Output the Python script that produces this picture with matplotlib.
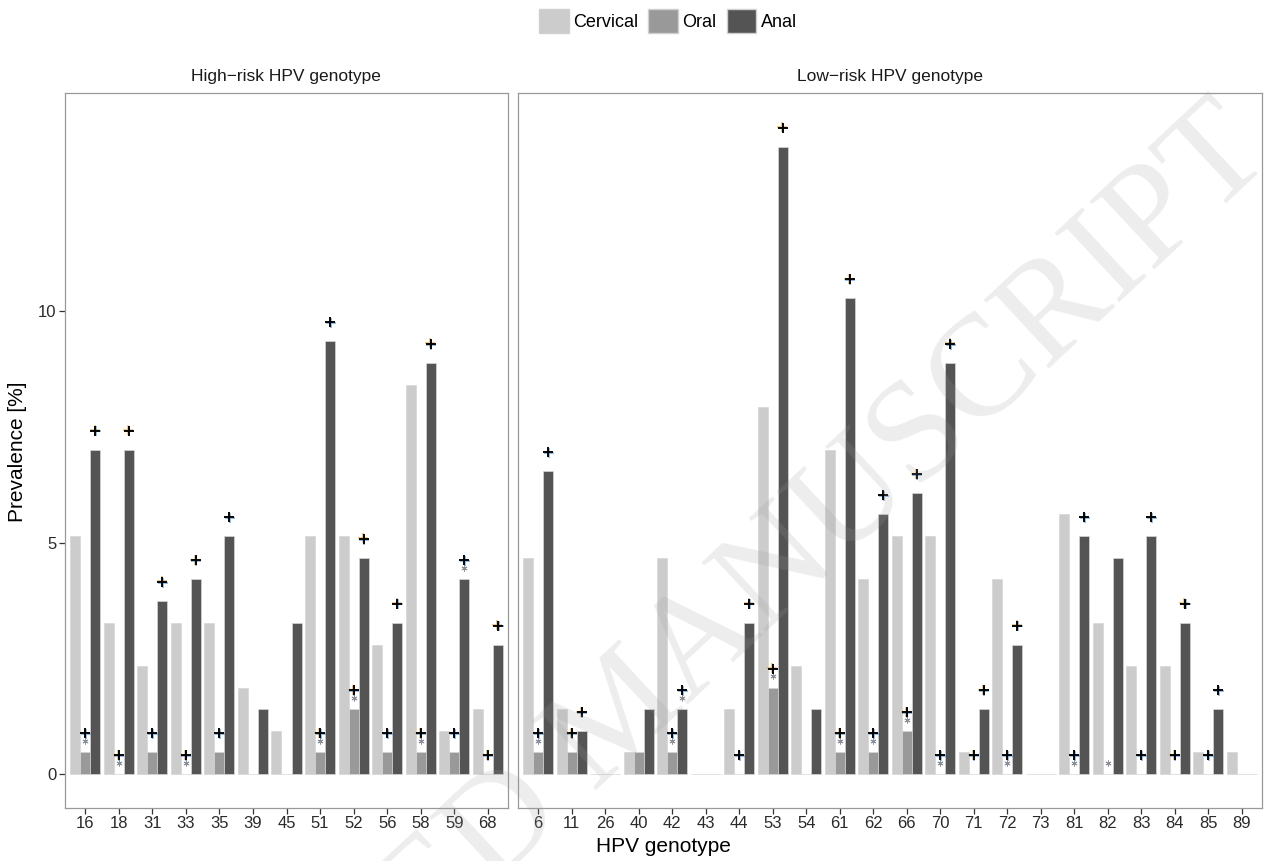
import matplotlib
matplotlib.use('Agg')
import matplotlib.pyplot as plt
import matplotlib.transforms as mtransforms
import numpy as np
from matplotlib.patches import Patch

plt.rcParams['font.family'] = ['Liberation Sans', 'DejaVu Sans']

# ---------------- data ----------------
high_genotypes = ['16', '18', '31', '33', '35', '39', '45', '51', '52', '56', '58', '59', '68']
high_cervical = [5.14, 3.27, 2.34, 3.27, 3.27, 1.87, 0.93, 5.14, 5.14, 2.80, 8.41, 0.93, 1.40]
high_oral     = [0.47, 0.00, 0.47, 0.00, 0.47, 0.00, 0.00, 0.47, 1.40, 0.47, 0.47, 0.47, 0.00]
high_anal     = [7.01, 7.01, 3.74, 4.21, 5.14, 1.40, 3.27, 9.35, 4.67, 3.27, 8.88, 4.21, 2.80]
high_plus_oral = [1, 1, 1, 1, 1, 0, 0, 1, 1, 1, 1, 1, 1]
high_star_oral = [1, 1, 0, 1, 0, 0, 0, 1, 1, 0, 1, 0, 0]
high_plus_anal = [1, 1, 1, 1, 1, 0, 0, 1, 1, 1, 1, 1, 1]
high_star_anal = [0, 0, 0, 0, 0, 0, 0, 0, 0, 0, 0, 1, 0]

low_genotypes = ['6', '11', '26', '40', '42', '43', '44', '53', '54', '61', '62', '66',
                 '70', '71', '72', '73', '81', '82', '83', '84', '85', '89']
low_cervical = [4.67, 1.40, 0.00, 0.47, 4.67, 0.00, 1.40, 7.94, 2.34, 7.01, 4.21, 5.14,
                5.14, 0.47, 4.21, 0.00, 5.61, 3.27, 2.34, 2.34, 0.47, 0.47]
low_oral     = [0.47, 0.47, 0.00, 0.47, 0.47, 0.00, 0.00, 1.87, 0.00, 0.47, 0.47, 0.93,
                0.00, 0.00, 0.00, 0.00, 0.00, 0.00, 0.00, 0.00, 0.00, 0.00]
low_anal     = [6.54, 0.93, 0.00, 1.40, 1.40, 0.00, 3.27, 13.55, 1.40, 10.28, 5.61, 6.07,
                8.88, 1.40, 2.80, 0.00, 5.14, 4.67, 5.14, 3.27, 1.40, 0.00]
low_plus_oral = [1, 1, 0, 0, 1, 0, 1, 1, 0, 1, 1, 1, 1, 1, 1, 0, 1, 0, 1, 1, 1, 0]
low_star_oral = [1, 0, 0, 0, 1, 0, 0, 1, 0, 1, 1, 1, 1, 0, 1, 0, 1, 1, 0, 0, 0, 0]
low_plus_anal = [1, 1, 0, 0, 1, 0, 1, 1, 0, 1, 1, 1, 1, 1, 1, 0, 1, 0, 1, 1, 1, 0]
low_star_anal = [0, 0, 0, 0, 1, 0, 0, 0, 0, 0, 0, 0, 0, 0, 0, 0, 0, 0, 0, 0, 0, 0]

series_names = ['Cervical', 'Oral', 'Anal']
panel_titles = ['High\u2212risk HPV genotype', 'Low\u2212risk HPV genotype']

# ---------------- style ----------------
COLORS = ['#cccccc', '#999999', '#545454']
EDGE = '#d6d6d6'
W, H = 1266, 861

fig = plt.figure(figsize=(W / 100, H / 100), dpi=100)
axL = fig.add_axes([65 / W, (H - 808) / H, 443 / W, 715 / H])
axR = fig.add_axes([518 / W, (H - 808) / H, 744 / W, 715 / H])

PLUS_OFF = 0.41
STAR_OFF = 0.24


def draw(ax, genos, cerv, oral, anal, po, so, pa, sa, show_y):
    x = np.arange(len(genos))
    bw = 0.3
    for vals, off, col in zip([cerv, oral, anal], [-bw, 0, bw], COLORS):
        ax.bar(x + off, vals, bw, color=col, edgecolor=EDGE, linewidth=0.5, zorder=2)
    oral = np.array(oral)
    anal = np.array(anal)
    fringe = [('#e8a33c', -0.6, 0.6), ('#4a90d9', 0.6, -0.6)]
    for flags, base, off in [(po, oral, 0.0), (pa, anal, bw)]:
        idx = np.array(flags, dtype=bool)
        xs = x[idx] + off
        ys = base[idx] + PLUS_OFF
        for col, dx, dy in fringe:
            tr = mtransforms.offset_copy(ax.transData, fig=fig, x=dx, y=dy, units='dots')
            ax.scatter(xs, ys, marker='+', s=62, linewidths=1.2, color=col, alpha=0.7,
                       zorder=3.5, transform=tr)
        ax.scatter(xs, ys, marker='+', s=62, linewidths=1.35, color='black', zorder=4)
    for flags, base, off in [(so, oral, 0.0), (sa, anal, bw)]:
        idx = np.array(flags, dtype=bool)
        xs = x[idx] + off
        ys = base[idx] + STAR_OFF
        ax.scatter(xs, ys, marker=(6, 2, 0), s=14, linewidths=0.7, color='#8a8f98', zorder=3)
    ax.set_xlim(-0.6, len(genos) - 0.4)
    ax.set_ylim(-0.73, 14.71)
    ax.set_xticks(x)
    ax.set_xticklabels(genos)
    ax.set_yticks([0, 5, 10])
    ax.tick_params(axis='both', length=4, width=0.9, color='#333333', labelsize=12,
                   labelcolor='#2a2a2a', pad=2)
    if not show_y:
        ax.tick_params(axis='y', left=False, labelleft=False)
    for sp in ax.spines.values():
        sp.set_color('#999999')
        sp.set_linewidth(0.9)


draw(axL, high_genotypes, high_cervical, high_oral, high_anal,
     high_plus_oral, high_star_oral, high_plus_anal, high_star_anal, True)
draw(axR, low_genotypes, low_cervical, low_oral, low_anal,
     low_plus_oral, low_star_oral, low_plus_anal, low_star_anal, False)

fig.text(286 / W, 1 - 76 / H, panel_titles[0], ha='center', va='center',
         fontsize=12.5, color='#1a1a1a')
fig.text(890 / W, 1 - 76 / H, panel_titles[1], ha='center', va='center',
         fontsize=12.5, color='#1a1a1a')
fig.text(663 / W, 1 - 846 / H, 'HPV genotype', ha='center', va='center', fontsize=15)
fig.text(18 / W, 1 - 452 / H, 'Prevalence [%]', ha='center', va='center',
         rotation=90, fontsize=15)

handles = [Patch(facecolor=c, edgecolor='#d0d0d0', linewidth=1.0) for c in COLORS]
fig.legend(handles, series_names, loc='center', bbox_to_anchor=(668 / W, 1 - 21 / H),
           ncol=3, frameon=False, fontsize=13, handlelength=1.65, handleheight=1.65,
           handletextpad=0.25, columnspacing=0.55, borderaxespad=0, borderpad=0)

# watermark of the source page
fig.text(624 / W, 1 - 717 / H, 'ACCEPTED MANUSCRIPT', rotation=43, rotation_mode='anchor',
         ha='center', va='center', fontsize=104, family='Liberation Serif',
         color=(0.6, 0.6, 0.6), alpha=0.18, zorder=10)

fig.savefig('out.png', dpi=100)
